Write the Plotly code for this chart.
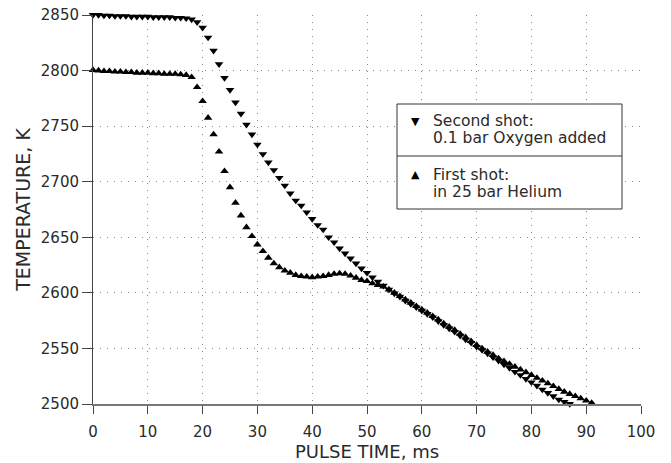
import plotly.graph_objects as go

# Second shot: 0.1 bar Oxygen added (down triangles)
t_second = list(range(0, 88))
T_second = [2850, 2850, 2849.5, 2849.5, 2849, 2849, 2849, 2848.5, 2848.5, 2848.5,
            2848.5, 2848, 2848, 2848, 2848, 2847.5, 2847.5, 2847, 2846, 2843.5,
            2838.6, 2829.7, 2817.9, 2805.7, 2793.4, 2782.6, 2771.3, 2761.2, 2751.3, 2742.5,
            2733.4, 2724.9, 2717.4, 2710.5, 2703.5, 2696.5, 2689.5, 2683, 2678.5, 2672.5,
            2666.5, 2661, 2657, 2650, 2645.5, 2640, 2635.5, 2631, 2626.5, 2622,
            2618, 2614, 2610, 2606.5, 2603, 2599.5, 2596.5, 2593, 2590, 2587,
            2584, 2581, 2578, 2574.5, 2571, 2568, 2565, 2561.5, 2558, 2555,
            2551.5, 2548.5, 2545.5, 2542, 2539, 2535.5, 2532.5, 2529, 2526, 2522.5,
            2519.5, 2516.5, 2513, 2510, 2507, 2504, 2502, 2500]

# First shot: in 25 bar Helium (up triangles)
t_first = list(range(0, 92))
T_first = [2800.5, 2800, 2799.5, 2799.5, 2799, 2799, 2798.5, 2798.5, 2798, 2798,
           2798, 2797.5, 2797.5, 2797, 2797, 2797, 2796.5, 2796, 2794, 2785,
           2772.5, 2757.5, 2742.5, 2727, 2709.5, 2695, 2681, 2669.5, 2659, 2651,
           2643.5, 2637.5, 2631.5, 2626.5, 2623, 2620, 2618, 2616, 2615, 2614.5,
           2614, 2614.5, 2615, 2616, 2617, 2617.5, 2617, 2615.5, 2613.5, 2611.5,
           2610.5, 2608.5, 2607, 2605.5, 2603, 2600, 2597, 2594, 2591, 2588,
           2585, 2582, 2579, 2576, 2572.5, 2569.5, 2566.5, 2563, 2560, 2556.5,
           2553, 2550, 2547, 2544, 2541, 2538.5, 2536, 2533.5, 2531, 2528.5,
           2526, 2523.5, 2521, 2518.5, 2516, 2513.5, 2511, 2509, 2507, 2505,
           2503, 2501]

x_ticks = [0, 10, 20, 30, 40, 50, 60, 70, 80, 90, 100]
y_ticks = [2500, 2550, 2600, 2650, 2700, 2750, 2800, 2850]

legend_lines = [("▼", "Second shot:", "0.1 bar Oxygen added"),
                ("▲", "First shot:", "in 25 bar Helium")]

FONT = "DejaVu Sans"
TXT = "#2a2a2a"
W, H = 671, 463
OFF = 8  # page body margin
# plot area in page pixels: left 93, right 641, top 15, bottom 404
ML, MT = 93 - OFF, 15 - OFF
MR, MB = W - (641 - OFF), H - (404 - OFF)
PW, PH = W - ML - MR, H - MT - MB


def px(x):
    return (x - OFF - ML) / PW


def py(y):
    return (H - MB - (y - OFF)) / PH


fig = go.Figure()
fig.add_trace(go.Scatter(
    x=t_second, y=T_second, mode="markers",
    name="Second shot: 0.1 bar Oxygen added",
    marker=dict(symbol="triangle-down", size=7.5, color="black"),
    cliponaxis=False, showlegend=False,
))
fig.add_trace(go.Scatter(
    x=t_first, y=T_first, mode="markers",
    name="First shot: in 25 bar Helium",
    marker=dict(symbol="triangle-up", size=7.5, color="black"),
    cliponaxis=False, showlegend=False,
))

grid = dict(showgrid=True, gridcolor="#8a8a8a", gridwidth=1, griddash="1px,6px",
            zeroline=False, mirror=False, ticklabeloverflow="allow")

fig.update_xaxes(range=[0, 100], tickvals=x_ticks, automargin=False,
                 showline=True, linecolor="#777", linewidth=1.5,
                 ticks="outside", ticklen=8, tickcolor="#444", tickwidth=1,
                 ticklabelstandoff=5,
                 tickfont=dict(family=FONT, size=15, color=TXT),
                 title=dict(text="PULSE TIME, ms", font=dict(family=FONT, size=18, color=TXT), standoff=2),
                 **grid)
fig.update_yaxes(range=[2500, 2850], tickvals=y_ticks, automargin=False,
                 showline=True, linecolor="#444", linewidth=1,
                 ticks="outside", ticklen=10, tickcolor="#444", tickwidth=1,
                 ticklabelstandoff=0,
                 tickfont=dict(family=FONT, size=15, color=TXT),
                 title=dict(text="TEMPERATURE, K", font=dict(family=FONT, size=19, color=TXT), standoff=5),
                 **grid)

fig.update_layout(
    width=W, height=H,
    margin=dict(l=ML, r=MR, t=MT, b=MB),
    paper_bgcolor="white", plot_bgcolor="white",
    showlegend=False,
)

# legend box
fig.add_shape(type="rect", xref="paper", yref="paper",
              x0=px(397), x1=px(622), y0=py(209), y1=py(104),
              line=dict(color="#333", width=1), fillcolor="white", layer="above")
fig.add_shape(type="line", xref="paper", yref="paper",
              x0=px(397), x1=px(622), y0=py(156), y1=py(156),
              line=dict(color="#333", width=1), layer="above")

rows = [(121, 138), (175, 192)]
for (sym, l1, l2), (y1, y2) in zip(legend_lines, rows):
    fig.add_annotation(xref="paper", yref="paper", x=px(415), y=py(y1),
                       text=sym, showarrow=False, xanchor="center", yanchor="middle",
                       font=dict(family=FONT, size=11, color="black"))
    fig.add_annotation(xref="paper", yref="paper", x=px(431), y=py(y1),
                       text=l1, showarrow=False, xanchor="left", yanchor="middle",
                       font=dict(family=FONT, size=15.5, color=TXT))
    fig.add_annotation(xref="paper", yref="paper", x=px(431), y=py(y2),
                       text=l2, showarrow=False, xanchor="left", yanchor="middle",
                       font=dict(family=FONT, size=15.5, color=TXT))

fig.write_html("out.html")
